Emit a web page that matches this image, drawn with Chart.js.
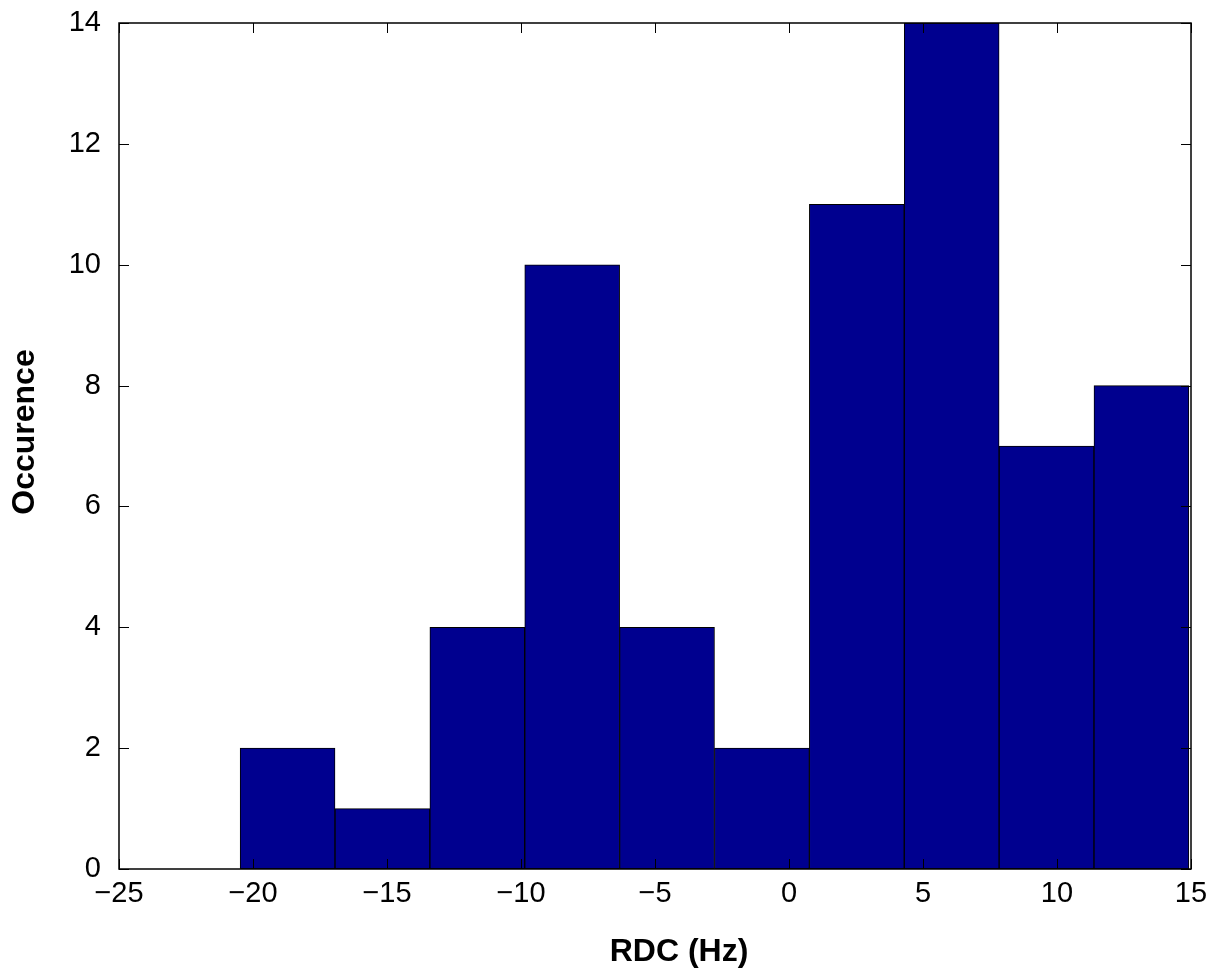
<!DOCTYPE html>
<html>
<head>
<meta charset="utf-8">
<script src="https://cdn.jsdelivr.net/npm/chart.js@4"></script>
<style>
  html, body { margin: 0; padding: 0; background: #fff; }
  #wrap { width: 1214px; height: 969px; }
</style>
</head>
<body>
<div id="wrap"><canvas id="c" width="1214" height="969"></canvas></div>
<script>
// Histogram bin centers (RDC, Hz) and counts
const binCenters = [-18.71, -15.17, -11.63, -8.09, -4.55, -1.01, 2.53, 6.07, 9.61, 13.15];
const counts     = [2, 1, 4, 10, 4, 2, 11, 14, 7, 8];
const xTicks = [-25, -20, -15, -10, -5, 0, 5, 10, 15];
const yTicks = [0, 2, 4, 6, 8, 10, 12, 14];
const xTitle = 'RDC (Hz)';
const yTitle = 'Occurence';

const FONT = '"Liberation Sans", Arial, Helvetica, sans-serif';
const minus = v => String(v).replace('-', '\u2212');

const boxTicks = {
  id: 'boxTicks',
  afterDraw(chart) {
    const {ctx, chartArea: a, scales: {x, y}} = chart;
    const L = 10;
    ctx.save();
    ctx.strokeStyle = '#000';
    ctx.lineWidth = 1;
    xTicks.forEach(v => {
      const px = Math.round(x.getPixelForValue(v)) + 0.5;
      ctx.beginPath();
      ctx.moveTo(px, a.bottom); ctx.lineTo(px, a.bottom - L);
      ctx.moveTo(px, a.top); ctx.lineTo(px, a.top + L);
      ctx.stroke();
    });
    yTicks.forEach(v => {
      const py = Math.round(y.getPixelForValue(v)) + 0.5;
      ctx.beginPath();
      ctx.moveTo(a.left, py); ctx.lineTo(a.left + L, py);
      ctx.moveTo(a.right, py); ctx.lineTo(a.right - L, py);
      ctx.stroke();
    });
    ctx.lineWidth = 1.5;
    ctx.strokeRect(a.left, a.top, a.right - a.left, a.bottom - a.top);

    // axis titles
    ctx.fillStyle = '#000';
    ctx.font = 'bold 32px ' + FONT;
    ctx.textAlign = 'center';
    ctx.textBaseline = 'middle';
    ctx.fillText(xTitle, (a.left + a.right) / 2 + 24, a.bottom + 83);
    ctx.translate(25, (a.top + a.bottom) / 2 - 14);
    ctx.rotate(-Math.PI / 2);
    ctx.fillText(yTitle, 0, 0);
    ctx.restore();
  }
};

new Chart(document.getElementById('c'), {
  type: 'bar',
  data: {
    datasets: [{
      data: binCenters.map((c, i) => ({x: c, y: counts[i]})),
      backgroundColor: '#00008F',
      borderColor: '#000',
      borderWidth: 1,
      borderSkipped: false,
      barPercentage: 1,
      categoryPercentage: 1
    }]
  },
  options: {
    responsive: false,
    devicePixelRatio: 1,
    animation: false,
    layout: { padding: { top: 23, right: 23, left: 0, bottom: 0 } },
    plugins: { legend: { display: false }, tooltip: { enabled: false } },
    scales: {
      x: {
        type: 'linear',
        min: -25, max: 15,
        offset: false,
        afterBuildTicks: s => { s.ticks = xTicks.map(v => ({value: v})); },
        afterFit: s => { s.height = 100; s.paddingLeft = 0; s.paddingRight = 0; },
        grid: { display: false, drawTicks: false },
        border: { display: false },
        ticks: {
          color: '#000', padding: 8,
          font: { family: FONT, size: 29 },
          callback: v => minus(v)
        },
        title: { display: false }
      },
      y: {
        min: 0, max: 14,
        afterBuildTicks: s => { s.ticks = yTicks.map(v => ({value: v})); },
        afterFit: s => { s.width = 119; s.paddingTop = 0; s.paddingBottom = 0; },
        grid: { display: false, drawTicks: false },
        border: { display: false },
        ticks: {
          color: '#000', padding: 18,
          font: { family: FONT, size: 29 },
          callback: v => minus(v)
        },
        title: { display: false }
      }
    }
  },
  plugins: [boxTicks]
});
</script>
</body>
</html>
